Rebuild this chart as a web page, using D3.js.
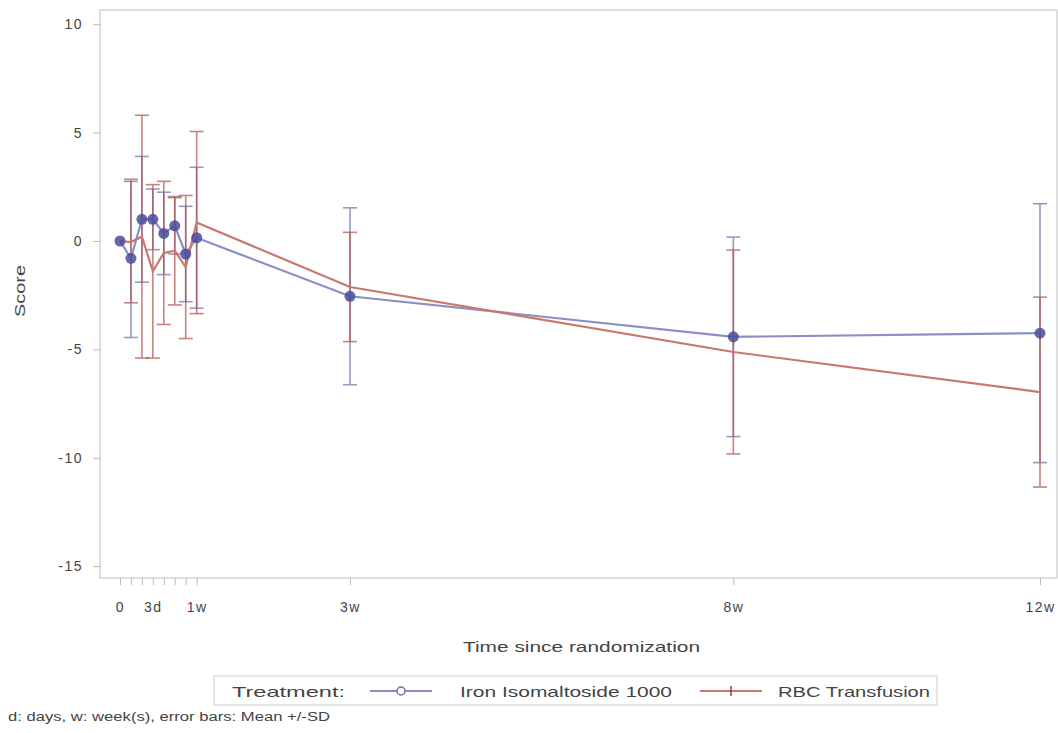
<!doctype html>
<html lang="en">
  <head>
    <meta charset="UTF-8" />
    <title>Score over time</title>
    <style>
      body { margin: 0; background: #fff; }
      text { font-family: "Liberation Sans", Arial, sans-serif; fill: #444; }
    </style>
  </head>
  <body>
    <div id="target"></div>
    <script src="https://d3js.org/d3.v7.min.js"></script>
    <script>
      /* global d3 */

      // days since randomization
      const days = [0, 1, 2, 3, 4, 5, 6, 7, 21, 56, 84];
      const ironMean = [0, -0.8, 1.0, 1.0, 0.35, 0.7, -0.6, 0.15, -2.55, -4.42, -4.25];
      const ironSD = [0, 3.65, 2.9, 1.4, 1.9, 1.3, 2.2, 3.25, 4.08, 4.6, 5.97];
      const rbcMean = [0, -0.05, 0.2, -1.4, -0.55, -0.45, -1.2, 0.85, -2.12, -5.12, -6.97];
      const rbcSD = [0, 2.8, 5.6, 4.0, 3.3, 2.5, 3.3, 4.2, 2.52, 4.7, 4.38];

      const xTicks = [0, 1, 2, 3, 4, 5, 6, 7, 21, 56, 84];
      const xTickLabels = { 0: "0", 3: "3d", 7: "1w", 21: "3w", 56: "8w", 84: "12w" };
      const yTicks = [-15, -10, -5, 0, 5, 10];

      const width = 1058,
        height = 733;
      const plot = { left: 100, right: 1057, top: 10, bottom: 578 };

      const svg = d3
        .select("#target")
        .append("svg")
        .attr("width", width)
        .attr("height", height);

      const x = d3.scaleLinear().domain([0, 84]).range([120, 1040]);
      const y = d3.scaleLinear().domain([-15, 10]).range([566.2, 24.2]);

      // frame
      svg.append("rect")
        .attr("x", plot.left)
        .attr("y", plot.top)
        .attr("width", plot.right - plot.left)
        .attr("height", plot.bottom - plot.top)
        .attr("fill", "none")
        .attr("stroke", "#d4d4d4")
        .attr("stroke-width", 1.5);

      // y axis
      const gy = svg.append("g").attr("transform", `translate(${plot.left},0)`)
        .call(d3.axisLeft(y).tickValues(yTicks).tickSize(7).tickPadding(10)
          .tickFormat((d) => String(d)));
      gy.select(".domain").remove();
      gy.selectAll("line").attr("stroke", "#bbb");
      gy.selectAll("text").style("font-size", "14px").style("letter-spacing", "1.5px").attr("fill", "#555");

      // x axis
      const gx = svg.append("g").attr("transform", `translate(0,${plot.bottom})`)
        .call(d3.axisBottom(x).tickValues(xTicks).tickSize(7).tickPadding(17)
          .tickFormat((d) => xTickLabels[d] || ""));
      gx.select(".domain").remove();
      gx.selectAll("line").attr("stroke", "#bbb");
      gx.selectAll("text").style("font-size", "14px").style("letter-spacing", "1.5px").attr("fill", "#555");

      svg.append("text")
        .attr("transform", "translate(25,291) rotate(-90)")
        .attr("text-anchor", "middle")
        .attr("textLength", 52)
        .attr("lengthAdjust", "spacingAndGlyphs")
        .style("font-size", "15px")
        .text("Score");

      svg.append("text")
        .attr("x", 463).attr("y", 652)
        .attr("textLength", 237)
        .attr("lengthAdjust", "spacingAndGlyphs")
        .style("font-size", "15px")
        .text("Time since randomization");

      const series = [
        { mean: ironMean, sd: ironSD, line: "#8a8fc6", bar: "#6d6fa8", marker: "#4a4c98" },
        { mean: rbcMean, sd: rbcSD, line: "#c9786c", bar: "#b0504a", marker: "#a23a2e" },
      ];

      const cap = 7;
      series.forEach((s) => {
        const pts = days.map((d, i) => ({ d, m: s.mean[i], sd: s.sd[i] }));
        const g = svg.append("g");
        const bars = g.selectAll("g.bar").data(pts.filter((p) => p.sd > 0)).join("g")
          .attr("stroke", s.bar).attr("stroke-width", 1.6).attr("opacity", 0.7);
        bars.append("line")
          .attr("x1", (p) => x(p.d)).attr("x2", (p) => x(p.d))
          .attr("y1", (p) => y(p.m - p.sd)).attr("y2", (p) => y(p.m + p.sd));
        bars.append("line")
          .attr("x1", (p) => x(p.d) - cap).attr("x2", (p) => x(p.d) + cap)
          .attr("y1", (p) => y(p.m + p.sd)).attr("y2", (p) => y(p.m + p.sd));
        bars.append("line")
          .attr("x1", (p) => x(p.d) - cap).attr("x2", (p) => x(p.d) + cap)
          .attr("y1", (p) => y(p.m - p.sd)).attr("y2", (p) => y(p.m - p.sd));
      });

      series.forEach((s) => {
        const pts = days.map((d, i) => ({ d, m: s.mean[i] }));
        svg.append("path")
          .datum(pts)
          .attr("fill", "none")
          .attr("stroke", s.line)
          .attr("stroke-width", 2.2)
          .attr("d", d3.line().x((p) => x(p.d)).y((p) => y(p.m)));
      });

      // iron markers
      svg.append("g").selectAll("circle")
        .data(days.map((d, i) => ({ d, m: ironMean[i] })))
        .join("circle")
        .attr("cx", (p) => x(p.d)).attr("cy", (p) => y(p.m))
        .attr("r", 5.5)
        .attr("fill", series[0].marker)
        .attr("opacity", 0.85);

      // legend
      const lg = svg.append("g");
      lg.append("rect")
        .attr("x", 214).attr("y", 676).attr("width", 723).attr("height", 29)
        .attr("fill", "none").attr("stroke", "#ddd").attr("stroke-width", 1.5);
      const legendText = (tx, len, str) =>
        lg.append("text").attr("x", tx).attr("y", 697)
          .attr("textLength", len).attr("lengthAdjust", "spacingAndGlyphs")
          .style("font-size", "15px").text(str);
      legendText(232, 113, "Treatment:");
      lg.append("line").attr("x1", 370).attr("x2", 432).attr("y1", 691).attr("y2", 691)
        .attr("stroke", series[0].line).attr("stroke-width", 2);
      lg.append("circle").attr("cx", 401).attr("cy", 691).attr("r", 4)
        .attr("fill", "#fff").attr("stroke", series[0].bar).attr("stroke-width", 1.5);
      legendText(460, 212, "Iron Isomaltoside 1000");
      lg.append("line").attr("x1", 700).attr("x2", 762).attr("y1", 691).attr("y2", 691)
        .attr("stroke", series[1].line).attr("stroke-width", 2);
      lg.append("line").attr("x1", 731).attr("x2", 731).attr("y1", 686).attr("y2", 696)
        .attr("stroke", series[1].marker).attr("stroke-width", 1.5);
      legendText(778, 152, "RBC Transfusion");

      svg.append("text")
        .attr("x", 8).attr("y", 721)
        .attr("textLength", 322)
        .attr("lengthAdjust", "spacingAndGlyphs")
        .style("font-size", "12px")
        .text("d: days,  w: week(s), error bars: Mean +/-SD");
    </script>
  </body>
</html>
